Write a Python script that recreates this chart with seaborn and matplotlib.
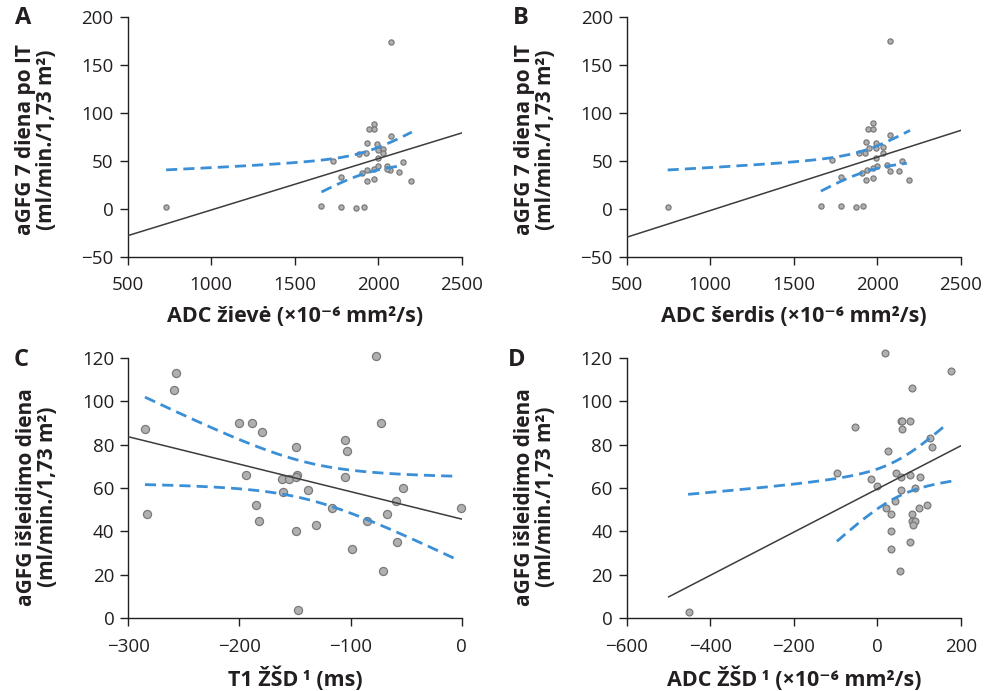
import numpy as np
import matplotlib
matplotlib.use("Agg")
import matplotlib.pyplot as plt
import seaborn as sns

sns.set_theme(style="ticks")
plt.rcParams['font.family'] = ['Open Sans', 'DejaVu Sans']

# ---------------- data ----------------
a_x = [731, 2076, 1659, 1777, 1865, 1912, 1972, 1946, 1976, 2076, 1930, 1990, 2030, 1996, 2030, 1886,
       1925, 1996, 1729, 2146, 1779, 1905, 1930, 1972, 1996, 2050, 2070, 2126, 2193, 1930, 1972, 2050]
a_y = [2, 174, 3, 2, 1, 2, 89, 83, 83, 76, 69, 68, 63, 62, 58, 57,
       58, 53, 50, 49, 33, 38, 41, 42, 45, 45, 41, 39, 29, 29, 31, 42]

b_x = [745, 2076, 1662, 1782, 1869, 1913, 1975, 1945, 1975, 2076, 1931, 1993, 2033, 1951, 1993, 1887,
       1927, 2035, 1993, 1730, 2146, 2058, 1997, 1975, 1935, 1909, 1782, 2073, 2127, 1929, 1971, 2190]
b_y = [2, 175, 3, 3, 2, 3, 90, 84, 84, 77, 70, 69, 65, 64, 64, 58,
       58, 58, 53, 51, 50, 46, 45, 43, 41, 38, 33, 40, 40, 30, 32, 30]

c_x = [-77, -257, -259, -285, -200, -189, -180, -73, -105, -103, -149, -194, -162, -155, -148, -149, -105,
       -138, -53, -161, -59, -1, -117, -185, -283, -67, -182, -85, -131, -149, -99, -58, -71, -147]
c_y = [121, 113, 105, 87, 90, 90, 86, 90, 82, 77, 79, 66, 64, 64, 66, 65, 65,
       59, 60, 58, 54, 51, 51, 52, 48, 48, 45, 45, 43, 40, 32, 35, 22, 4]

d_x = [18, 175, 83, 56, 60, 79, 59, -53, 125, 131, 26, -97, -16, -2, 45, 57, 77, 103, 57, 89, 42,
       21, 32, 99, 118, 83, 82, 90, 84, 33, 33, 78, 54, -452]
d_y = [122, 114, 106, 91, 91, 91, 87, 88, 83, 79, 77, 67, 64, 61, 67, 65, 66, 65, 59, 60, 54,
       51, 48, 51, 52, 48, 45, 45, 43, 40, 32, 35, 22, 3]

panel_letters = ["A", "B", "C", "D"]
xlabels = ["ADC žievė (×10⁻⁶ mm²/s)", "ADC šerdis (×10⁻⁶ mm²/s)",
           "T1 ŽŠD\u2009¹ (ms)", "ADC ŽŠD\u2009¹ (×10⁻⁶ mm²/s)"]
ylabels = ["aGFG 7 diena po IT\n(ml/min./1,73 m²)", "aGFG 7 diena po IT\n(ml/min./1,73 m²)",
           "aGFG išleidimo diena\n(ml/min./1,73 m²)", "aGFG išleidimo diena\n(ml/min./1,73 m²)"]
xticks = [[500, 1000, 1500, 2000, 2500], [500, 1000, 1500, 2000, 2500],
          [-300, -200, -100, 0], [-600, -400, -200, 0, 200]]
yticks = [[-50, 0, 50, 100, 150, 200], [-50, 0, 50, 100, 150, 200],
          [0, 20, 40, 60, 80, 100, 120], [0, 20, 40, 60, 80, 100, 120]]

# spans over which the fit line and the two confidence curves are drawn
line_span = [(500, 2500), (500, 2500), (-300, 0), (-500, 200)]
upper_span = [(731, 2200), (745, 2195), (-285, -4), (-453, 165)]
lower_span = [(1660, 2140), (1662, 2176), (-285, -4), (-97, 179)]

# ---------------- layout ----------------
W, H = 991, 691
fig = plt.figure(figsize=(W / 100, H / 100), dpi=100)

def box(l, r, b, t):
    return [l / W, 1 - b / H, (r - l) / W, (b - t) / H]

rects = [box(127.5, 462, 257, 17.3), box(626.7, 961, 257, 17.3),
         box(128.3, 461.7, 618.3, 357.7), box(626.7, 961, 618.3, 357.7)]
letter_pos = [(23, 18), (521, 18), (21, 360), (517, 360)]
ylab_y = [0.49, 0.49, 0.465, 0.465]
msize = [14, 14, 34, 24]

datasets = [(a_x, a_y), (b_x, b_y), (c_x, c_y), (d_x, d_y)]
BLUE = "#3a8fd6"
TXT = "#231f20"

def fit_and_band(x, y, xs):
    x = np.asarray(x, float); y = np.asarray(y, float)
    n = len(x)
    b1, b0 = np.polyfit(x, y, 1)
    res = y - (b0 + b1 * x)
    s = np.sqrt(np.sum(res ** 2) / (n - 2))
    sxx = np.sum((x - x.mean()) ** 2)
    t = 2.04
    yh = b0 + b1 * xs
    half = t * s * np.sqrt(1.0 / n + (xs - x.mean()) ** 2 / sxx)
    return yh, yh + half, yh - half

for i, (x, y) in enumerate(datasets):
    ax = fig.add_axes(rects[i])
    sns.regplot(x=np.asarray(x), y=np.asarray(y), ax=ax, fit_reg=False,
                scatter_kws=dict(s=msize[i], color="#b0b0b0", edgecolor="#7a7a7a",
                                 linewidths=0.9, alpha=1, zorder=3, clip_on=False))
    xs = np.linspace(*line_span[i], 200)
    yh, _, _ = fit_and_band(x, y, xs)
    sns.lineplot(x=xs, y=yh, ax=ax, color="#3c3c3c", lw=1.1, estimator=None, sort=False, zorder=4)
    xu = np.linspace(*upper_span[i], 200)
    _, up, _ = fit_and_band(x, y, xu)
    sns.lineplot(x=xu, y=up, ax=ax, color=BLUE, lw=2.0, estimator=None, sort=False,
                 dashes=False, zorder=5).lines[-1].set_dashes([4, 2.2])
    xl = np.linspace(*lower_span[i], 200)
    _, _, lo = fit_and_band(x, y, xl)
    sns.lineplot(x=xl, y=lo, ax=ax, color=BLUE, lw=2.0, estimator=None, sort=False,
                 dashes=False, zorder=5).lines[-1].set_dashes([4, 2.2])

    ax.set_xlim(xticks[i][0], xticks[i][-1])
    ax.set_ylim(yticks[i][0], yticks[i][-1])
    ax.set_xticks(xticks[i])
    ax.set_yticks(yticks[i])
    ax.set_xticklabels([str(v).replace("-", "−") for v in xticks[i]])
    ax.set_yticklabels([str(v).replace("-", "−") for v in yticks[i]])
    ax.tick_params(axis="both", direction="out", length=6, width=1.0, color="#231f20",
                   labelsize=13.5, labelcolor=TXT, pad=4)
    ax.tick_params(axis="x", pad=8)
    for side in ["top", "right"]:
        ax.spines[side].set_visible(False)
    for side in ["left", "bottom"]:
        ax.spines[side].set_color("#231f20")
        ax.spines[side].set_linewidth(1.0)
    ax.set_xlabel(xlabels[i], fontsize=15.5, fontweight="bold", color=TXT, labelpad=8)
    ax.set_ylabel(ylabels[i], fontsize=15, fontweight="bold", color=TXT,
                  linespacing=1.0)
    ax.yaxis.set_label_coords(-0.212, ylab_y[i])
    ax.set_facecolor("white")
    fig.text(letter_pos[i][0] / W, 1 - letter_pos[i][1] / H, panel_letters[i],
             fontsize=17, fontweight="bold", color=TXT, ha="center", va="center")

fig.savefig("out.png", dpi=100, facecolor="white")
